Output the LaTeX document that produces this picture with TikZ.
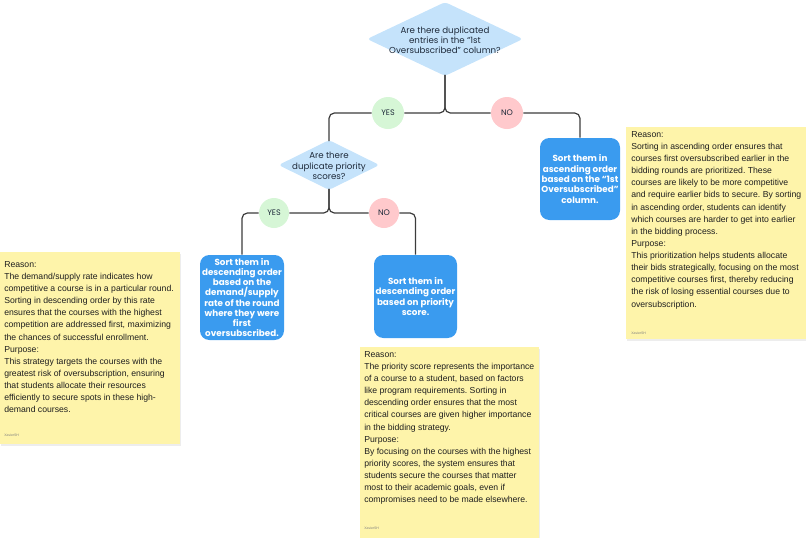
\documentclass[tikz,border=0pt]{standalone}
\usepackage{fontspec}
\setmainfont{Liberation Sans}
\newfontfamily\pop{Poppins}
\usetikzlibrary{shapes.geometric}
\definecolor{diafill}{HTML}{C5E3FB}
\definecolor{boxfill}{HTML}{3A9BEF}
\definecolor{yesfill}{HTML}{D6F6D6}
\definecolor{nofill}{HTML}{FFC9CC}
\definecolor{notefill}{HTML}{FEF4AA}
\definecolor{linecol}{HTML}{3C3C3C}
\definecolor{dtext}{HTML}{1E2A3A}
\frenchspacing
\begin{document}
\begin{tikzpicture}[x=0.75pt,y=-0.75pt,
 dia/.style={diamond, fill=diafill, rounded corners=2.5pt, inner sep=0pt},
 diatext/.style={font=\pop\fontsize{6.5}{7.7}\selectfont, align=center, text=dtext, inner sep=0pt},
 sortbox/.style={rectangle, fill=boxfill, rounded corners=7pt, text=white, font=\pop\bfseries\fontsize{6.6}{7.7}\selectfont, align=center, inner sep=0pt},
 yesc/.style={circle, fill=yesfill, inner sep=0pt, font=\pop\fontsize{6}{6.5}\selectfont, text=dtext},
 noc/.style={circle, fill=nofill, inner sep=0pt, font=\pop\fontsize{6}{6.5}\selectfont, text=dtext},
 conn/.style={draw=linecol, line width=0.9pt, rounded corners=4pt},
 note/.style={rectangle, fill=notefill, draw=none, anchor=north west, inner sep=0pt},
 shadow/.style={rectangle, fill=black!7, draw=none, anchor=north west, inner sep=0pt},
 notetext/.style={anchor=north west, align=left, inner sep=0pt, font=\fontsize{6.5}{9.1}\selectfont, text=black!88},
 sig/.style={anchor=west, inner sep=0pt, font=\fontsize{2.6}{3}\selectfont, text=black!50}
]
\useasboundingbox (0,0) rectangle (806,537);

% sticky notes
\node[shadow, minimum width=135pt, minimum height=159pt] (rsh) at (627,129) {};
\node[note, minimum width=135pt, minimum height=159pt] (rnote) at (626,127) {};
\node[shadow, minimum width=135pt, minimum height=144pt] (lsh) at (1,254) {};
\node[note, minimum width=135pt, minimum height=144pt] (lnote) at (0,252) {};
\node[shadow, minimum width=134.25pt, minimum height=146pt] (msh) at (361,349) {};
\node[note, minimum width=134.25pt, minimum height=146pt] (mnote) at (360,347) {};

\node[notetext] (rtext) at (631,131) {Reason:\\
Sorting in ascending order ensures that\\
courses first oversubscribed earlier in the\\
bidding rounds are prioritized. These\\
courses are likely to be more competitive\\
and require earlier bids to secure. By sorting\\
in ascending order, students can identify\\
which courses are harder to get into earlier\\
in the bidding process.\\
Purpose:\\
This prioritization helps students allocate\\
their bids strategically, focusing on the most\\
competitive courses first, thereby reducing\\
the risk of losing essential courses due to\\
oversubscription.};

\node[notetext] (ltext) at (4,261) {Reason:\\
The demand/supply rate indicates how\\
competitive a course is in a particular round.\\
Sorting in descending order by this rate\\
ensures that the courses with the highest\\
competition are addressed first, maximizing\\
the chances of successful enrollment.\\
Purpose:\\
This strategy targets the courses with the\\
greatest risk of oversubscription, ensuring\\
that students allocate their resources\\
efficiently to secure spots in these high-\\
demand courses.};

\node[notetext] (mtext) at (364,351) {Reason:\\
The priority score represents the importance\\
of a course to a student, based on factors\\
like program requirements. Sorting in\\
descending order ensures that the most\\
critical courses are given higher importance\\
in the bidding strategy.\\
Purpose:\\
By focusing on the courses with the highest\\
priority scores, the system ensures that\\
students secure the courses that matter\\
most to their academic goals, even if\\
compromises need to be made elsewhere.};

\node[sig] (rsig) at (631,333) {XavierSH};
\node[sig] (lsig) at (4,435) {XavierSH};
\node[sig] (msig) at (364,528) {XavierSH};

% decisions
\node[dia, minimum width=117pt, minimum height=55.5pt] (d1) at (445,39) {};
\node[diatext] (d1t) at (445,40) {Are there duplicated\\entries in the “1st\\Oversubscribed” column?};
\node[dia, minimum width=75.75pt, minimum height=37.5pt] (d2) at (329,165) {};
\node[diatext] (d2t) at (329,166) {Are there\\duplicate priority\\scores?};

% outcome boxes
\node[sortbox, minimum width=60pt, minimum height=61.5pt] (b1) at (580,179) {Sort them in\\ascending order\\based on the “1st\\Oversubscribed”\\column.};
\node[sortbox, minimum width=63pt, minimum height=63.75pt] (b2) at (242,297.5) {Sort them in\\descending order\\based on the\\demand/supply\\rate of the round\\where they were\\first\\oversubscribed.};
\node[sortbox, minimum width=62.25pt, minimum height=62.25pt] (b3) at (415.5,296.5) {Sort them in\\descending order\\based on priority\\score.};

% labels
\node[yesc, minimum size=24pt] (yes1) at (388,113) {YES};
\node[noc, minimum size=24pt] (no1) at (507,113) {NO};
\node[yesc, minimum size=22.5pt] (yes2) at (274,213) {YES};
\node[noc, minimum size=22.5pt] (no2) at (384,213) {NO};

% connectors
\draw[conn] ([yshift=1pt]d1.south) |- (yes1.east);
\draw[conn] (yes1.west) -| ([yshift=-1pt]d2.north);
\draw[conn] ([yshift=1pt]d1.south) |- (no1.west);
\draw[conn] (no1.east) -| (b1.north);
\draw[conn] ([yshift=1pt]d2.south) |- (yes2.east);
\draw[conn] (yes2.west) -| (b2.north);
\draw[conn] ([yshift=1pt]d2.south) |- (no2.west);
\draw[conn] (no2.east) -| (b3.north);
\end{tikzpicture}
\end{document}
